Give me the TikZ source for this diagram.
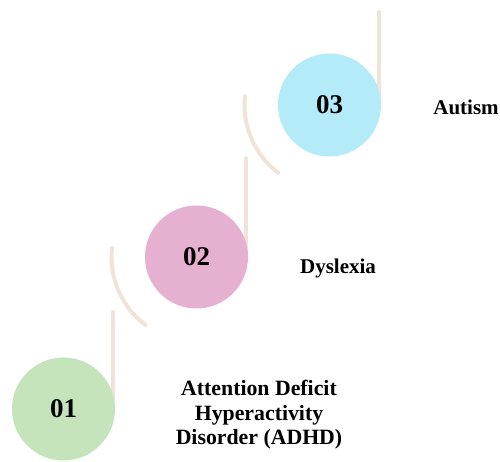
\documentclass[tikz,border=0pt]{standalone}
\usepackage{fontspec}
\setmainfont{Liberation Serif}
\usepackage{xcolor}
\usepackage{tikz}
\usetikzlibrary{positioning}
\definecolor{stemcol}{HTML}{EFE3DA}
\definecolor{greencol}{HTML}{C6E4BC}
\definecolor{pinkcol}{HTML}{E6B0D1}
\definecolor{cyancol}{HTML}{B3ECF8}

\begin{document}
\begin{tikzpicture}[x=1pt, y=1pt,
  stepdot/.style={circle, fill=#1, draw=none, inner sep=0pt,
                  minimum size=103pt, font=\fontsize{27}{30}\selectfont\bfseries},
  stem/.style={draw=stemcol, line width=4pt, line cap=round},
  label/.style={font=\fontsize{21}{24}\selectfont\bfseries, align=center},
]
\useasboundingbox (0,0) rectangle (500,462);

% Step circles (drawn later, on top of the stems)
\path (63.5,53) coordinate (p1)
      (196.5,205) coordinate (p2)
      (329.5,357) coordinate (p3);

% Stems
\draw[stem] ([xshift=49.5pt]p1) -- ++(0,97);
\draw[stem] ([xshift=49.5pt]p2) -- ++(0,99);
\draw[stem] ([xshift=49.5pt]p3) -- ++(0,93);

% Arcs
\draw[stem] ([shift={(174:85)}]p2) arc (174:233:85);
\draw[stem] ([shift={(174:85)}]p3) arc (174:233:85);

% Step 1
\node[stepdot=greencol] (s1) at (p1) {01};
\node[label, font=\fontsize{21.8}{24.5}\selectfont\bfseries] (t1) at (259,47)
  {Attention Deficit\\Hyperactivity\\Disorder (ADHD)};

% Step 2
\node[stepdot=pinkcol] (s2) at (p2) {02};
\node[label] (t2) at (338,194) {Dyslexia};

% Step 3
\node[stepdot=cyancol] (s3) at (p3) {03};
\node[label] (t3) at (466,355) {Autism};
\end{tikzpicture}
\end{document}
